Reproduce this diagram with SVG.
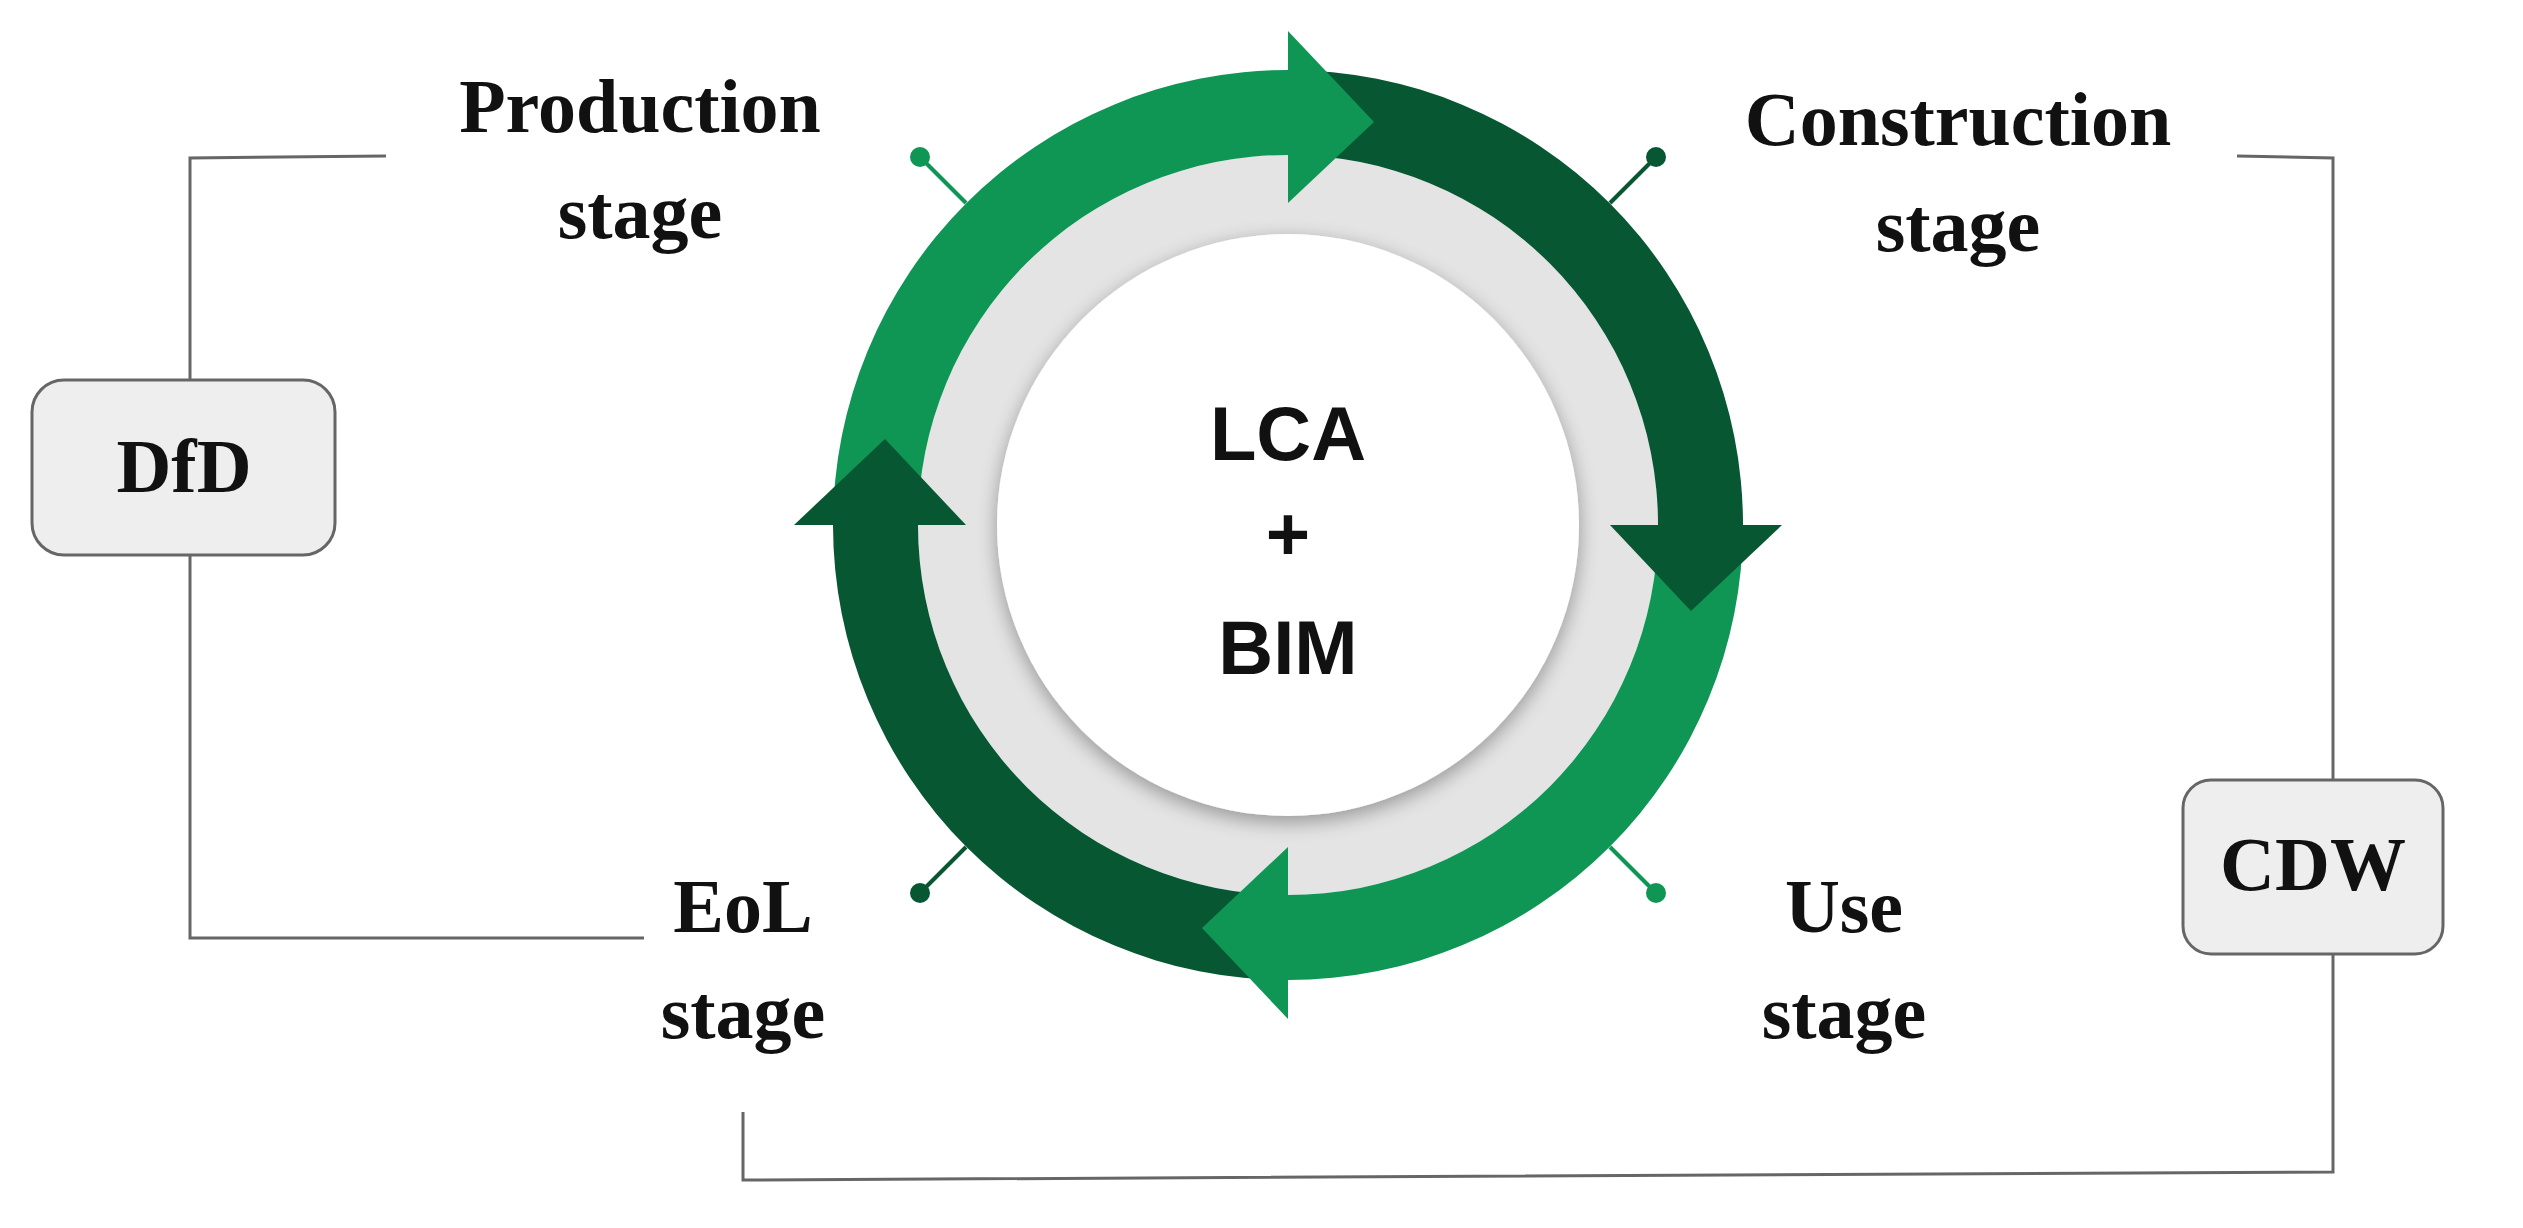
<svg xmlns="http://www.w3.org/2000/svg" width="2523" height="1228" viewBox="0 0 2523 1228">
<defs>
<style>
.lbl{font-family:"Liberation Serif","Times New Roman",serif;font-weight:bold;font-size:76px;fill:#111;text-anchor:middle}
.box{fill:#eeeeee;stroke:#666;stroke-width:3}
.con{fill:none;stroke:#666;stroke-width:3}
.lt{fill:#0f9655}
.dk{fill:#075733}
.ctr{font-family:"Liberation Sans",Arial,sans-serif;font-weight:bold;font-size:76px;fill:#111;text-anchor:middle}
</style>
<filter id="sh" x="-20%" y="-20%" width="140%" height="140%"><feGaussianBlur in="SourceAlpha" stdDeviation="10"/><feOffset dx="0" dy="6"/><feComponentTransfer><feFuncA type="linear" slope="0.35"/></feComponentTransfer><feMerge><feMergeNode/><feMergeNode in="SourceGraphic"/></feMerge></filter>
</defs>
<rect width="2523" height="1228" fill="#fff"/>
<g id="connectors">
<polyline class="con" points="386,156 190,158 190,380"/>
<polyline class="con" points="190,555 190,938 644,938"/>
<polyline class="con" points="2237,156 2333,158 2333,780"/>
<polyline class="con" points="743,1112 743,1180 2333,1172 2333,954"/>
</g>
<g id="cycle">
<circle cx="1288" cy="525" r="370" fill="#e4e4e4"/>
<circle cx="1288" cy="525" r="291" fill="#fff" filter="url(#sh)"/>
<path class="lt" d="M833 525 A455 455 0 0 1 1288 70 L1288 155 A370 370 0 0 0 918 525 Z"/>
<path class="dk" d="M1288 70 A455 455 0 0 1 1743 525 L1658 525 A370 370 0 0 0 1288 155 Z"/>
<path class="lt" d="M1743 525 A455 455 0 0 1 1288 980 L1288 895 A370 370 0 0 0 1658 525 Z"/>
<path class="dk" d="M1288 980 A455 455 0 0 1 833 525 L918 525 A370 370 0 0 0 1288 895 Z"/>
<polygon class="lt" points="1288,31 1288,203 1374,122"/>
<polygon class="dk" points="1782,525 1610,525 1691,611"/>
<polygon class="lt" points="1288,1019 1288,847 1202,928"/>
<polygon class="dk" points="794,525 966,525 885,439"/>
<line x1="966" y1="203" x2="920" y2="157" stroke="#0f9655" stroke-width="4"/><circle cx="920" cy="157" r="10" class="lt"/>
<line x1="1610" y1="203" x2="1656" y2="157" stroke="#075733" stroke-width="4"/><circle cx="1656" cy="157" r="10" class="dk"/>
<line x1="966" y1="847" x2="920" y2="893" stroke="#075733" stroke-width="4"/><circle cx="920" cy="893" r="10" class="dk"/>
<line x1="1610" y1="847" x2="1656" y2="893" stroke="#0f9655" stroke-width="4"/><circle cx="1656" cy="893" r="10" class="lt"/>
<text class="ctr" x="1288" y="460">LCA</text>
<text class="ctr" x="1288" y="560">+</text>
<text class="ctr" x="1288" y="674">BIM</text>
</g>
<g id="production"><text class="lbl" x="640" y="132">Production</text><text class="lbl" x="640" y="238">stage</text></g>
<g id="construction"><text class="lbl" x="1958" y="145">Construction</text><text class="lbl" x="1958" y="251">stage</text></g>
<g id="eol"><text class="lbl" x="743" y="932">EoL</text><text class="lbl" x="743" y="1038">stage</text></g>
<g id="use"><text class="lbl" x="1844" y="932">Use</text><text class="lbl" x="1844" y="1038">stage</text></g>
<g id="dfd"><rect class="box" x="32" y="380" width="303" height="175" rx="32"/><text class="lbl" x="184" y="492" font-size="64">DfD</text></g>
<g id="cdw"><rect class="box" x="2183" y="780" width="260" height="174" rx="28"/><text class="lbl" x="2313" y="890" font-size="62">CDW</text></g>
</svg>
